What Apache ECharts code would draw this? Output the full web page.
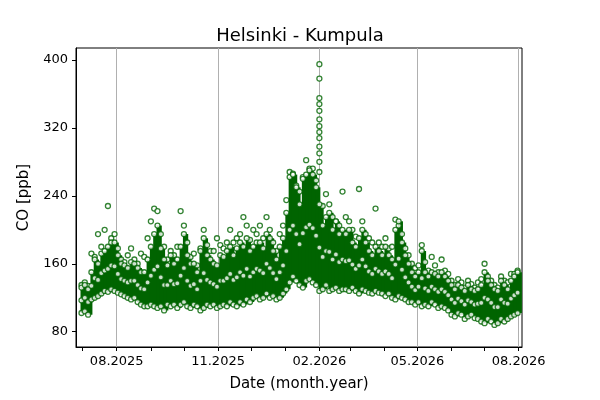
<!DOCTYPE html>
<html>
<head>
<meta charset="utf-8">
<script src="https://cdn.jsdelivr.net/npm/echarts@6/dist/echarts.min.js"></script>
<style>html,body{margin:0;padding:0;background:#fff}#main{width:600px;height:400px}</style>
</head>
<body>
<div id="main"></div>
<script>
// one entry every 3 days starting 2025-06-30
const startDate = '2025-06-30';
const stepDays = 3;
const lowVals = [
  102,104,100,118,120,122,125,128,127,130,
  128,126,124,122,120,118,120,115,112,110,
  110,112,110,108,110,105,112,110,112,108,
  112,115,110,108,112,110,105,108,112,110,
  112,108,110,112,110,115,112,110,115,112,
  118,115,120,122,118,120,125,120,122,118,
  120,125,130,138,145,140,135,132,140,142,
  138,135,128,130,135,128,130,132,128,130,
  130,128,132,128,125,130,128,126,125,128,
  126,125,122,125,120,118,122,120,118,115,
  115,112,115,110,112,110,115,112,108,110,
  108,105,100,98,102,100,95,98,100,96,
  95,92,90,95,92,88,90,95,92,95,98,100,102
];
const highVals = [
  132,135,130,150,165,160,172,175,180,185,
  185,170,160,158,155,162,160,155,150,150,
  165,180,195,205,178,165,158,170,160,165,
  180,195,170,160,160,150,175,190,170,165,
  160,158,170,168,175,180,170,178,185,180,
  190,175,180,185,185,178,195,190,175,165,
  180,190,220,262,265,250,230,260,265,270,
  265,250,230,205,215,220,200,210,195,200,
  195,200,185,180,190,200,185,175,170,180,
  175,170,180,170,165,200,210,185,170,160,
  150,145,150,175,150,145,150,148,145,150,
  145,140,135,130,135,132,128,135,130,128,
  130,135,150,140,135,130,128,140,135,130,140,145,150
];
const peakVals = [
  135,138,134,172,168,195,180,200,228,190,
  195,178,165,162,170,178,165,160,172,168,
  190,210,225,222,195,180,165,175,170,180,
  222,205,185,168,172,158,178,200,182,175,
  175,190,182,178,185,200,185,190,195,215,
  205,188,200,195,205,190,215,200,185,175,
  195,205,235,268,266,252,245,262,282,272,
  272,258,395,228,242,230,215,210,205,245,
  215,210,200,192,248,210,195,190,185,225,
  185,180,190,178,180,212,205,195,178,170,
  160,155,158,182,162,152,168,158,150,165,
  152,148,140,135,142,138,132,140,136,132,
  138,142,160,145,140,135,132,145,140,138,148,148,152
];
// the early-February spike
const spikeDate = '2026-02-01';
const spikeVals = [378, 355, 348, 340, 330, 322, 315, 308, 298, 290, 280, 268];

const labelDates = ['2025-08-01','2025-11-01','2026-02-01','2026-05-01','2026-08-01'];
const monthDates = ['2025-07-01','2025-08-01','2025-09-01','2025-10-01','2025-11-01','2025-12-01',
  '2026-01-01','2026-02-01','2026-03-01','2026-04-01','2026-05-01','2026-06-01','2026-07-01','2026-08-01'];
const yTicks = [80,160,240,320,400];

const DAY = 86400000;
const ts = s => new Date(s + 'T00:00:00Z').getTime();
const t0 = ts(startDate);
const times = lowVals.map((_, i) => t0 + i * stepDays * DAY);
const green = '#006400';

const ring = {color: '#fff', borderColor: green, borderWidth: 1.3};
const pts = arr => arr.map((v, i) => [times[i], v]);
const midVals = lowVals.map((v, i) => Math.round((v + highVals[i]) / 2));

echarts.init(document.getElementById('main')).setOption({
  animation: false,
  textStyle: {fontFamily: 'DejaVu Sans'},
  title: {text: 'Helsinki - Kumpula', left: 'center', top: 22,
    textStyle: {fontSize: 18, fontWeight: 'normal', color: '#000'}},
  grid: {left: 76, right: 78, top: 48, bottom: 53, show: true, borderColor: '#000', borderWidth: 1},
  xAxis: {
    type: 'value', min: ts('2025-06-25'), max: ts('2026-08-04'),
    name: 'Date (month.year)', nameLocation: 'middle', nameGap: 30,
    nameTextStyle: {fontSize: 15, color: '#000'},
    axisLine: {onZero: false, lineStyle: {color: '#000'}},
    axisTick: {customValues: monthDates.map(ts), length: 4, lineStyle: {color: '#000'}},
    axisLabel: {customValues: labelDates.map(ts), fontSize: 13, color: '#000',
      formatter: v => { const d = new Date(v); return String(d.getUTCMonth() + 1).padStart(2, '0') + '.' + d.getUTCFullYear(); }},
    splitLine: {show: false}
  },
  yAxis: {
    type: 'value', min: 62, max: 414,
    name: 'CO [ppb]', nameLocation: 'middle', nameGap: 44,
    nameTextStyle: {fontSize: 15, color: '#000'},
    axisLine: {show: true, onZero: false, lineStyle: {color: '#000'}},
    axisTick: {show: true, customValues: yTicks, length: 4, lineStyle: {color: '#000'}},
    axisLabel: {customValues: yTicks, fontSize: 13, color: '#000'},
    splitLine: {show: false}
  },
  series: [
    {
      type: 'custom',
      data: lowVals.map((v, i) => [times[i], v, highVals[i]]),
      renderItem: (params, api) => {
        const a = api.coord([api.value(0), api.value(1)]);
        const b = api.coord([api.value(0) + stepDays * DAY, api.value(2)]);
        return {type: 'rect', shape: {x: a[0] - 1, y: b[1], width: b[0] - a[0] + 2, height: a[1] - b[1]},
          style: {fill: green}};
      },
      z: 2
    },
    {type: 'scatter', data: pts(peakVals), symbolSize: 5, itemStyle: ring, z: 3,
      markLine: {silent: true, symbol: 'none', label: {show: false}, z: 1,
        lineStyle: {color: '#b0b0b0', width: 1, type: 'solid'},
        data: labelDates.map(d => ({xAxis: ts(d)}))}},
    {type: 'scatter', data: pts(highVals), symbolSize: 5, itemStyle: ring, z: 3},
    {type: 'scatter', data: pts(midVals), symbolSize: 5, itemStyle: ring, z: 3},
    {type: 'scatter', data: pts(lowVals), symbolSize: 5, itemStyle: ring, z: 3},
    {type: 'scatter', data: spikeVals.map(v => [ts(spikeDate), v]), symbolSize: 5, itemStyle: ring, z: 3}
  ]
});
</script>
</body>
</html>
